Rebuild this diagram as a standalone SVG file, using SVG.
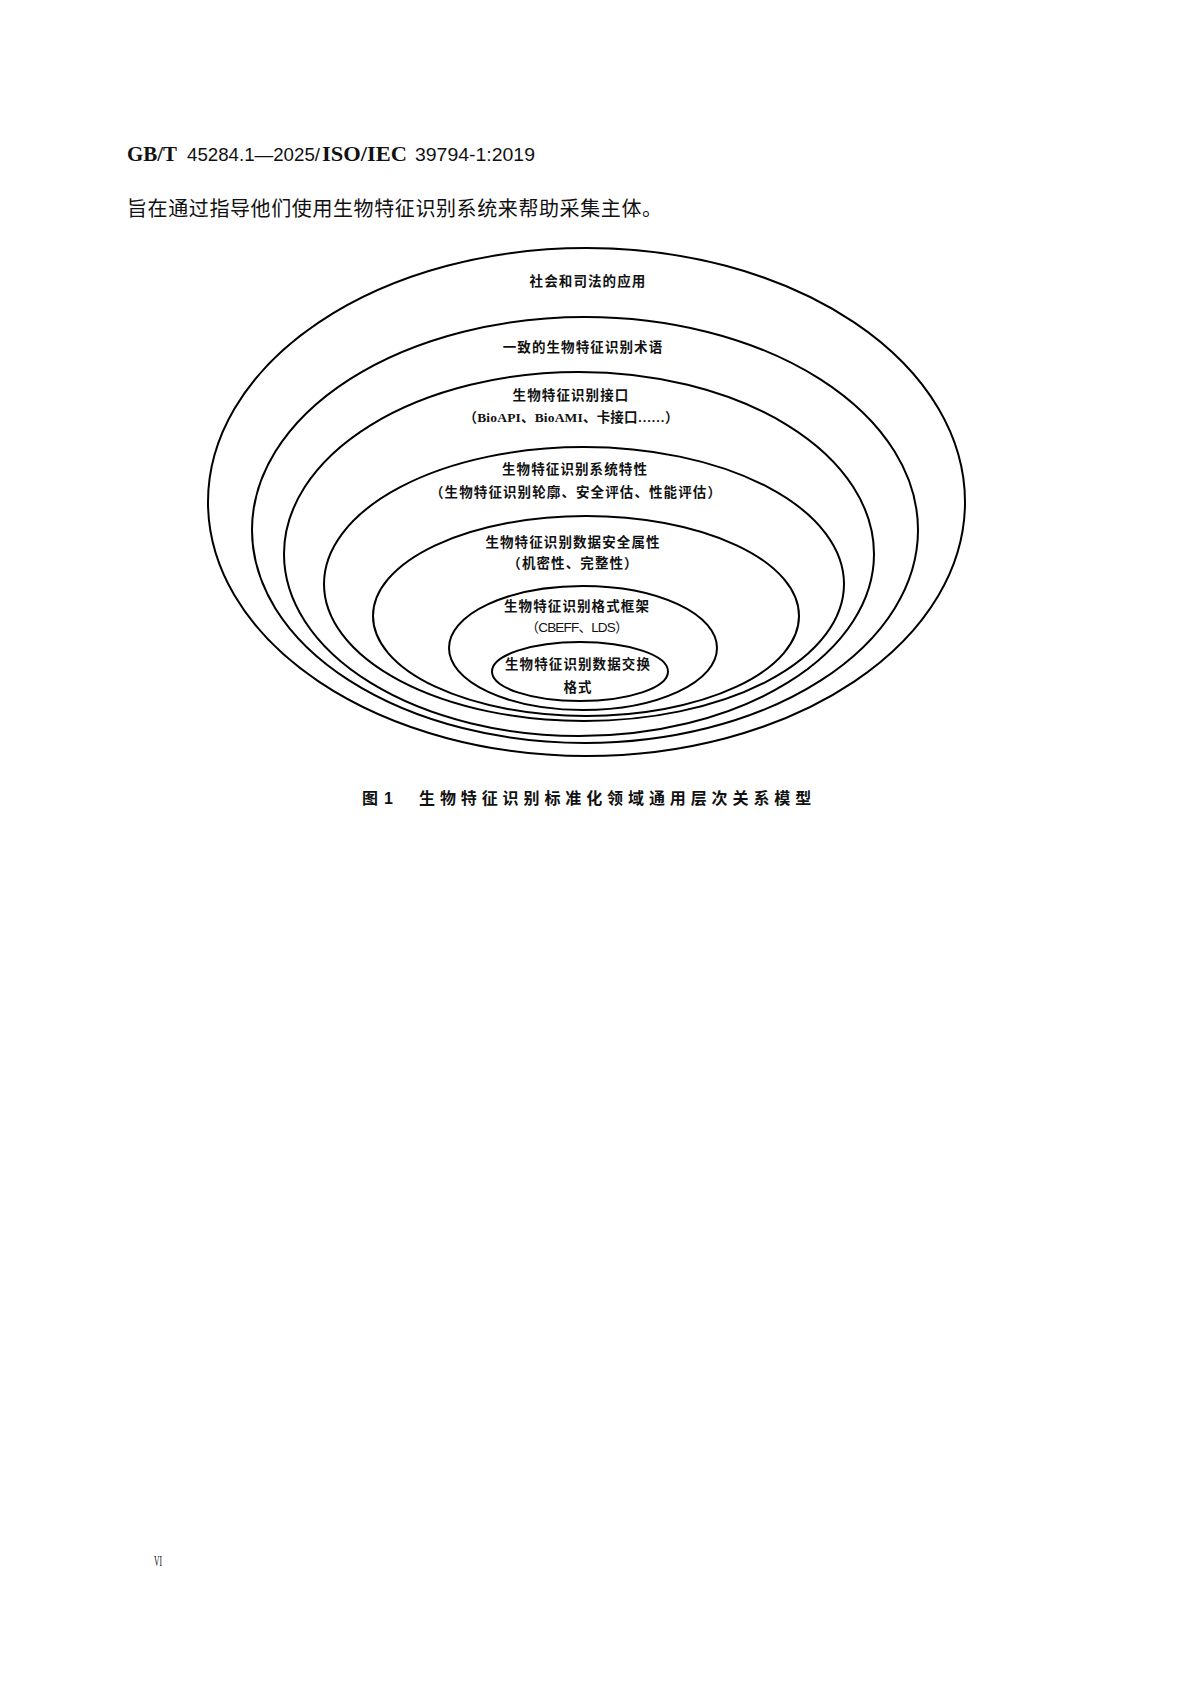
<svg xmlns="http://www.w3.org/2000/svg" width="1191" height="1685" viewBox="0 0 1191 1685">
<style>
.ring{fill:none;stroke:#000;stroke-width:2}
.lbl{font-family:"Noto Sans CJK SC","Noto Sans CJK JP",sans-serif;font-size:13.5px;font-weight:bold;fill:#111;text-anchor:middle;letter-spacing:1.1px}
.sub{font-family:"Liberation Serif","Noto Sans CJK SC",serif;font-size:13.5px;font-weight:bold;fill:#111;text-anchor:middle}
.hdrB{font-family:"Liberation Serif",serif;font-weight:bold;font-size:20px;fill:#111}
.hdrN{font-family:"Liberation Sans Narrow","Liberation Sans",sans-serif;font-size:19px;fill:#111}
.body{font-family:"Noto Sans CJK SC","Noto Sans CJK JP",sans-serif;font-size:20px;fill:#111;letter-spacing:0.6px}
.cap{font-family:"Noto Sans CJK SC","Noto Sans CJK JP",sans-serif;font-size:16px;font-weight:bold;fill:#111}
</style>
<rect width="1191" height="1685" fill="#fff"/>
<g id="header">
<text class="hdrB" x="127" y="161" textLength="50" lengthAdjust="spacingAndGlyphs">GB/T</text>
<text class="hdrN" x="187" y="161" textLength="133" lengthAdjust="spacingAndGlyphs">45284.1—2025/</text>
<text class="hdrB" x="322" y="161" textLength="85" lengthAdjust="spacingAndGlyphs">ISO/IEC</text>
<text class="hdrN" x="415" y="161" textLength="120" lengthAdjust="spacingAndGlyphs">39794-1:2019</text>
</g>
<text id="para" class="body" x="127" y="216">旨在通过指导他们使用生物特征识别系统来帮助采集主体。</text>
<g id="n1"><ellipse class="ring" cx="586.5" cy="502" rx="378.5" ry="254"/>
<text class="lbl" x="588" y="286">社会和司法的应用</text></g>
<g id="n2"><ellipse class="ring" cx="585" cy="530" rx="333" ry="213"/>
<text class="lbl" x="583" y="352">一致的生物特征识别术语</text></g>
<g id="n3"><ellipse class="ring" cx="579" cy="554" rx="295" ry="182"/>
<text class="lbl" x="571" y="400">生物特征识别接口</text>
<text class="sub" x="571" y="422" textLength="215">（BioAPI、BioAMI、卡接口……）</text></g>
<g id="n4"><ellipse class="ring" cx="584" cy="584" rx="260" ry="137"/>
<text class="lbl" x="575" y="474">生物特征识别系统特性</text>
<text class="lbl" x="576" y="497">（生物特征识别轮廓、安全评估、性能评估）</text></g>
<g id="n5"><ellipse class="ring" cx="586" cy="616" rx="213" ry="100"/>
<text class="lbl" x="573" y="547">生物特征识别数据安全属性</text>
<text class="lbl" x="573" y="568">（机密性、完整性）</text></g>
<g id="n6"><ellipse class="ring" cx="583" cy="648" rx="134" ry="62"/>
<text class="lbl" x="577" y="611">生物特征识别格式框架</text>
<text class="sub" x="577" y="632" style="font-family:'Liberation Sans Narrow','Liberation Sans','Noto Sans CJK SC',sans-serif;font-weight:normal" textLength="103">（CBEFF、LDS）</text></g>
<g id="n7"><ellipse class="ring" cx="580" cy="671.5" rx="88" ry="29.5"/>
<text class="lbl" x="578" y="669">生物特征识别数据交换</text>
<text class="lbl" x="578" y="692">格式</text></g>
<g id="caption">
<text class="cap" x="362" y="804">图</text>
<text class="cap" x="384" y="804" style="font-family:'Liberation Sans',sans-serif">1</text>
<text class="cap" x="419" y="804" style="letter-spacing:4.9px">生物特征识别标准化领域通用层次关系模型</text>
</g>
<text id="folio" x="154" y="1566" style="font-family:'Liberation Serif',serif;font-size:14px;fill:#111" textLength="8" lengthAdjust="spacingAndGlyphs">VI</text>
</svg>
